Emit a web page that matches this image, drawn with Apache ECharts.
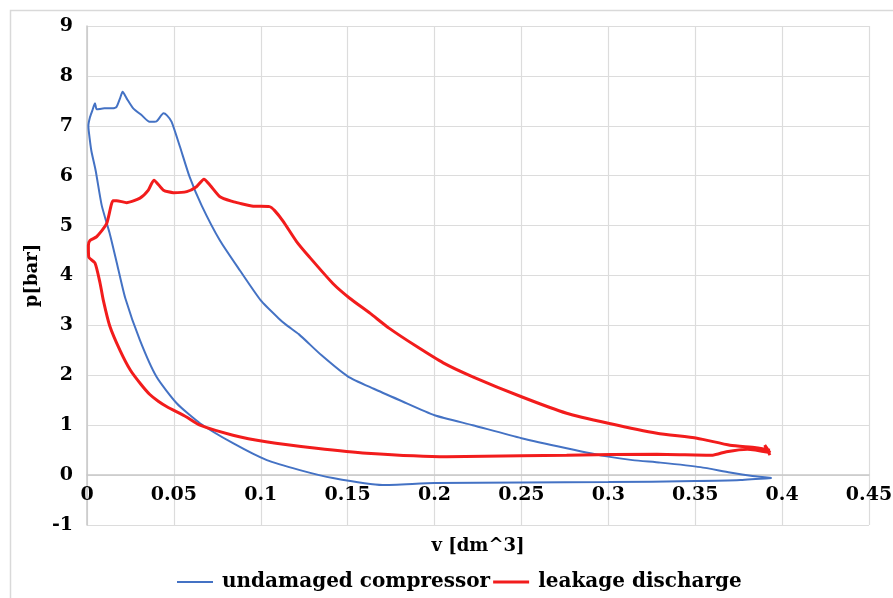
<!DOCTYPE html>
<html>
<head>
<meta charset="utf-8">
<script src="https://cdn.jsdelivr.net/npm/echarts@6/dist/echarts.min.js"></script>
<style>html,body{margin:0;padding:0;background:#fff}#c{width:893px;height:598px}</style>
</head>
<body>
<div id="c"></div>
<script>
// ---- data ----
var xTicks = [0, 0.05, 0.1, 0.15, 0.2, 0.25, 0.3, 0.35, 0.4, 0.45];
var yTicks = [-1, 0, 1, 2, 3, 4, 5, 6, 7, 8, 9];
var seriesNames = ['undamaged compressor', 'leakage discharge'];

// undamaged compressor loop (v [dm^3], p [bar]) in path order
var undamagedV = [0.394,0.383,0.370,0.353,0.330,0.314,0.300,0.276,0.250,0.222,0.200,0.180,0.165,0.150,0.135,0.122,0.115,0.110,0.100,0.088,0.0765,0.066,0.059,0.0535,0.0487,0.046,0.044,0.040,0.036,0.0315,0.0266,0.0228,0.0205,0.019,0.017,0.015,0.010,0.0056,0.0046,0.0030,0.0017,0.0008,
  0.0010,0.0025,0.0050,0.0085,0.0130,0.0175,0.0220,0.0305,0.0400,0.0516,0.0650,0.0840,0.1035,0.1225,0.1415,0.1700,0.2000,0.2500,0.3000,0.3500,0.3760,0.3940];
var undamagedP = [-0.06,-0.02,0.05,0.16,0.25,0.30,0.37,0.54,0.74,1.00,1.20,1.50,1.73,1.98,2.40,2.82,3.00,3.15,3.50,4.10,4.70,5.40,5.98,6.58,7.08,7.21,7.25,7.09,7.08,7.21,7.35,7.55,7.68,7.55,7.38,7.35,7.35,7.33,7.45,7.30,7.17,7.00,
  6.90,6.50,6.10,5.40,4.85,4.20,3.55,2.70,1.97,1.44,1.04,0.64,0.30,0.10,-0.06,-0.20,-0.16,-0.15,-0.14,-0.12,-0.10,-0.06];

// leakage discharge loop
var leakageV = [0.393,0.385,0.370,0.351,0.328,0.300,0.276,0.250,0.222,0.205,0.190,0.174,0.163,0.151,0.1415,0.128,0.1206,0.113,0.108,0.105,0.0957,0.0875,0.084,0.0765,0.0708,0.0673,0.063,0.0574,0.0497,0.044,0.0385,0.0353,0.0305,0.0228,0.017,0.015,0.0113,0.0056,0.0017,0.0008,
  0.0010,0.0046,0.0075,0.0094,0.013,0.019,0.025,0.031,0.036,0.041,0.046,0.057,0.065,0.084,0.103,0.132,0.161,0.207,0.250,0.276,0.328,0.360,0.368,0.380,0.393,0.390,0.393];
var leakageP = [0.50,0.55,0.60,0.74,0.84,1.04,1.24,1.57,1.97,2.25,2.57,2.94,3.24,3.55,3.84,4.37,4.68,5.08,5.30,5.38,5.39,5.45,5.48,5.58,5.81,5.93,5.78,5.68,5.66,5.71,5.91,5.71,5.55,5.46,5.50,5.50,5.04,4.78,4.70,4.60,
  4.37,4.25,3.85,3.50,3.00,2.50,2.10,1.82,1.62,1.48,1.37,1.17,1.00,0.80,0.67,0.54,0.44,0.37,0.39,0.40,0.42,0.40,0.47,0.52,0.45,0.60,0.40];

function pairs(xs, ys) { return xs.map(function (x, i) { return [x, ys[i]]; }); }

var FONT = 'DejaVu Serif';
var GRID_TOP = 26, GRID_BOTTOM = 73, H = 598;
var plotH = H - GRID_TOP - GRID_BOTTOM;
// shift the x axis (labels + line) up to p = 0
var zeroOffset = -plotH * (0 - yTicks[0]) / (yTicks[yTicks.length - 1] - yTicks[0]);

var chart = echarts.init(document.getElementById('c'), null, { renderer: 'canvas' });
chart.setOption({
  backgroundColor: '#ffffff',
  animation: false,
  graphic: [{
    type: 'rect', left: 8, top: 8, z: -10, silent: true,
    shape: { width: 900, height: 600 },
    style: { fill: 'none', stroke: '#d9d9d9', lineWidth: 1.5 }
  }],
  grid: { left: 87, right: 24, top: GRID_TOP, bottom: GRID_BOTTOM, containLabel: false, outerBoundsMode: 'none' },
  xAxis: {
    type: 'value', min: xTicks[0], max: xTicks[xTicks.length - 1], interval: 0.05,
    offset: zeroOffset,
    name: 'v [dm^3]', nameLocation: 'middle', nameGap: 62,
    nameTextStyle: { fontFamily: FONT, fontWeight: 'bold', fontSize: 18, color: '#000' },
    axisLine: { onZero: false, lineStyle: { color: '#c8c8c8', width: 1.5 } },
    axisTick: { show: false },
    axisLabel: { fontFamily: FONT, fontWeight: 'bold', fontSize: 19, color: '#000', margin: 10,
      formatter: function (v) { return String(+v.toFixed(2)); } },
    splitLine: { show: true, lineStyle: { color: '#dcdcdc', width: 1.2 } }
  },
  yAxis: {
    type: 'value', min: yTicks[0], max: yTicks[yTicks.length - 1], interval: 1,
    name: 'p[bar]', nameLocation: 'middle', nameGap: 28, nameRotate: 90,
    nameTextStyle: { fontFamily: FONT, fontWeight: 'bold', fontSize: 18, color: '#000' },
    axisLine: { show: true, lineStyle: { color: '#c8c8c8', width: 1.5 } },
    axisTick: { show: false },
    axisLabel: { fontFamily: FONT, fontWeight: 'bold', fontSize: 19, color: '#000', margin: 14 },
    splitLine: { show: true, lineStyle: { color: '#dcdcdc', width: 1.2 } }
  },
  legend: {
    left: 172, top: 567, itemWidth: 36, itemHeight: 14, itemGap: 3,
    textStyle: { fontFamily: FONT, fontWeight: 'bold', fontSize: 20, color: '#000', padding: [0, 0, 0, 4] },
    data: [
      { name: seriesNames[0], icon: 'path://M0,6L36,6L36,8L0,8Z' },
      { name: seriesNames[1], icon: 'path://M0,5.5L36,5.5L36,8.5L0,8.5Z' }
    ]
  },
  series: [
    { name: seriesNames[0], type: 'line', data: pairs(undamagedV, undamagedP), showSymbol: false, symbol: 'none',
      smooth: 0.2, lineStyle: { color: '#4472c4', width: 2 }, itemStyle: { color: '#4472c4' } },
    { name: seriesNames[1], type: 'line', data: pairs(leakageV, leakageP), showSymbol: false, symbol: 'none',
      smooth: 0.2, lineStyle: { color: '#f21c1c', width: 3 }, itemStyle: { color: '#f21c1c' } }
  ]
});
</script>
</body>
</html>
